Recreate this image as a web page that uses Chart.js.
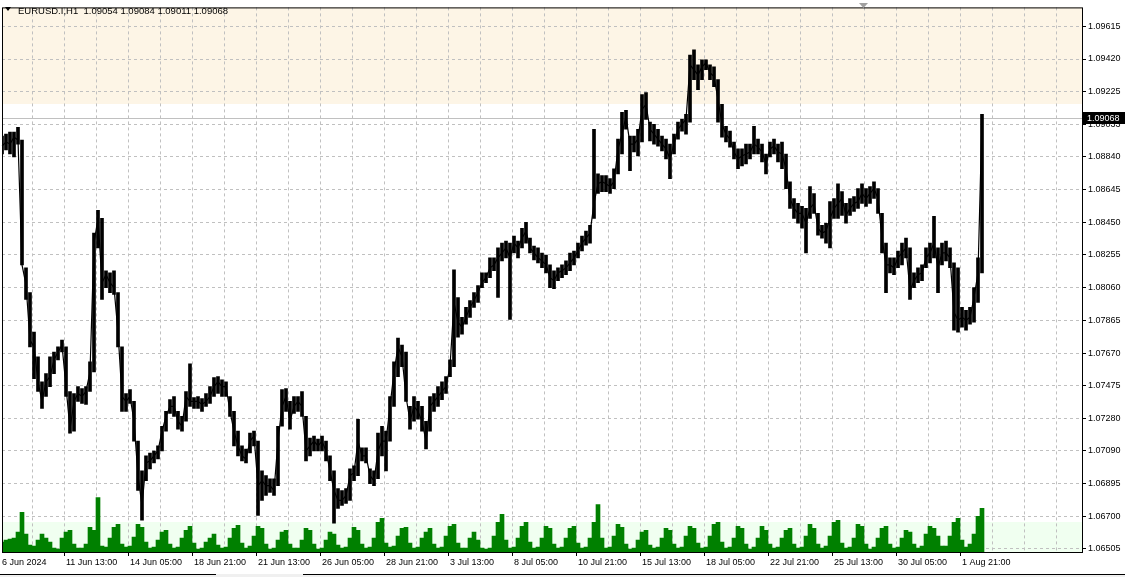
<!DOCTYPE html>
<html><head><meta charset="utf-8">
<script src="https://cdn.jsdelivr.net/npm/chart.js@4.4.1/dist/chart.umd.min.js"></script>
<style>html,body{margin:0;padding:0;background:#fff;overflow:hidden}#wrap{width:1125px;height:577px;position:relative}</style>
</head><body><div id="wrap"><canvas id="c" width="1125" height="577"></canvas></div>
<script>
const symbolTitle = 'EURUSD.I,H1  1.09054 1.09084 1.09011 1.09068';
const lastPrice = 1.09068;
const lastPriceLabel = '1.09068';
const upperZoneFrom = 1.0915;
const volumeBandTop = 3050;

const dateTickLabels = ['6 Jun 2024','11 Jun 13:00','14 Jun 05:00','18 Jun 21:00','21 Jun 13:00','26 Jun 05:00','28 Jun 21:00','3 Jul 13:00','8 Jul 05:00','10 Jul 21:00','15 Jul 13:00','18 Jul 05:00','22 Jul 21:00','25 Jul 13:00','30 Jul 05:00','1 Aug 21:00'];
const yTickLabels = ['1.09615','1.09420','1.09225','1.09033','1.08840','1.08645','1.08450','1.08255','1.08060','1.07865','1.07670','1.07475','1.07280','1.07090','1.06895','1.06700','1.06505'];

// close price, one value per 4 hourly bars
const closePrices = [
1.08902,1.08926,1.08914,1.08955,1.08938,1.08195,1.08078,1.07748,1.07707,1.07500,
1.07383,1.07500,1.07530,1.07630,1.07677,1.07718,1.07471,1.07218,1.07383,1.07430,
1.07412,1.07442,1.07559,1.08325,1.08472,1.08089,1.08137,1.08089,1.08060,1.07795,
1.07412,1.07383,1.07412,1.07265,1.06941,1.06764,1.07017,1.07029,1.07059,1.07088,
1.07206,1.07294,1.07353,1.07353,1.07265,1.07235,1.07412,1.07383,1.07383,1.07383,
1.07365,1.07383,1.07412,1.07471,1.07500,1.07471,1.07471,1.07324,1.07206,1.07118,
1.07059,1.07041,1.07147,1.07177,1.06882,1.06911,1.06882,1.06882,1.06853,1.07147,
1.07353,1.07412,1.07265,1.07353,1.07383,1.07353,1.07088,1.07118,1.07147,1.07118,
1.07147,1.07088,1.06970,1.06853,1.06794,1.06794,1.06823,1.06941,1.06959,1.07147,
1.07059,1.07059,1.06941,1.06911,1.07088,1.07147,1.07147,1.07353,1.07559,1.07707,
1.07648,1.07412,1.07265,1.07353,1.07324,1.07265,1.07147,1.07353,1.07383,1.07412,
1.07442,1.07471,1.07589,1.07972,1.07854,1.07824,1.07883,1.07942,1.07983,1.08031,
1.08089,1.08119,1.08178,1.08195,1.08237,1.08266,1.08296,1.08237,1.08325,1.08296,
1.08354,1.08396,1.08296,1.08266,1.08237,1.08219,1.08195,1.08119,1.08101,1.08148,
1.08160,1.08178,1.08207,1.08237,1.08278,1.08325,1.08354,1.08384,1.08561,1.08678,
1.08690,1.08678,1.08661,1.08690,1.08885,1.08973,1.09079,1.08914,1.08914,1.08943,
1.09120,1.09150,1.09002,1.08973,1.08943,1.08914,1.08885,1.08826,1.08914,1.09002,
1.09032,1.09061,1.09385,1.09356,1.09326,1.09373,1.09397,1.09338,1.09315,1.09179,
1.09032,1.08973,1.08943,1.08867,1.08826,1.08843,1.08855,1.08867,1.08914,1.08896,
1.08867,1.08796,1.08885,1.08902,1.08867,1.08855,1.08767,1.08590,1.08531,1.08502,
1.08502,1.08443,1.08531,1.08561,1.08413,1.08384,1.08396,1.08472,1.08531,1.08561,
1.08590,1.08490,1.08531,1.08561,1.08572,1.08620,1.08590,1.08620,1.08649,1.08590,
1.08354,1.08195,1.08195,1.08178,1.08237,1.08266,1.08296,1.08042,1.08101,1.08137,
1.08148,1.08237,1.08266,1.08325,1.08178,1.08266,1.08266,1.08237,1.07913,1.07866,
1.07883,1.07866,1.07883,1.08001,1.08148,1.09068
];

// highest price in each group of 4 hourly bars
const priceHigh = [
1.08961,1.08973,1.08985,1.08985,1.09014,1.08938,1.08178,1.08030,1.07795,1.07648,
1.07500,1.07548,1.07648,1.07677,1.07707,1.07748,1.07707,1.07442,1.07430,1.07471,
1.07459,1.07471,1.07618,1.08384,1.08519,1.08472,1.08160,1.08148,1.08160,1.08030,
1.07707,1.07430,1.07453,1.07383,1.07147,1.06970,1.07059,1.07076,1.07088,1.07118,
1.07235,1.07324,1.07394,1.07412,1.07324,1.07294,1.07442,1.07606,1.07406,1.07412,
1.07400,1.07430,1.07471,1.07524,1.07530,1.07512,1.07500,1.07412,1.07324,1.07206,
1.07118,1.07100,1.07194,1.07206,1.07147,1.06970,1.06941,1.06923,1.06923,1.07235,
1.07453,1.07459,1.07383,1.07412,1.07412,1.07442,1.07294,1.07165,1.07176,1.07159,
1.07176,1.07147,1.07059,1.06970,1.06864,1.06853,1.06864,1.06982,1.07000,1.07277,
1.07106,1.07106,1.06982,1.06970,1.07194,1.07235,1.07206,1.07412,1.07618,1.07760,
1.07718,1.07677,1.07353,1.07412,1.07383,1.07353,1.07265,1.07412,1.07430,1.07471,
1.07500,1.07530,1.07630,1.08166,1.08001,1.07883,1.07942,1.07983,1.08030,1.08072,
1.08148,1.08148,1.08237,1.08237,1.08296,1.08325,1.08337,1.08325,1.08366,1.08337,
1.08413,1.08449,1.08354,1.08307,1.08296,1.08266,1.08254,1.08195,1.08160,1.08178,
1.08195,1.08219,1.08266,1.08278,1.08325,1.08366,1.08396,1.08431,1.09002,1.08737,
1.08726,1.08726,1.08708,1.08767,1.08943,1.09102,1.09114,1.08961,1.08961,1.09002,
1.09208,1.09220,1.09044,1.09032,1.09002,1.08961,1.08943,1.08914,1.08973,1.09044,
1.09061,1.09091,1.09444,1.09474,1.09385,1.09415,1.09415,1.09385,1.09373,1.09297,
1.09150,1.09020,1.08991,1.08926,1.08885,1.08885,1.08914,1.08914,1.09020,1.08943,
1.08914,1.08855,1.08926,1.08943,1.08914,1.08926,1.08855,1.08690,1.08590,1.08561,
1.08543,1.08531,1.08661,1.08620,1.08502,1.08431,1.08443,1.08572,1.08590,1.08678,
1.08631,1.08561,1.08590,1.08602,1.08649,1.08678,1.08649,1.08661,1.08690,1.08649,
1.08502,1.08325,1.08237,1.08237,1.08278,1.08325,1.08354,1.08296,1.08148,1.08178,
1.08195,1.08296,1.08325,1.08484,1.08296,1.08325,1.08337,1.08296,1.08207,1.08178,
1.07942,1.07925,1.07942,1.08060,1.08237,1.09091
];

// lowest price in each group of 4 hourly bars
const priceLow = [
1.08855,1.08879,1.08855,1.08837,1.08914,1.08195,1.07989,1.07707,1.07518,1.07442,
1.07341,1.07412,1.07471,1.07548,1.07630,1.07677,1.07412,1.07194,1.07206,1.07383,
1.07371,1.07365,1.07442,1.07559,1.08296,1.07989,1.08060,1.08030,1.08019,1.07707,
1.07324,1.07324,1.07371,1.07147,1.06853,1.06676,1.06911,1.06982,1.07017,1.07041,
1.07088,1.07206,1.07312,1.07294,1.07218,1.07206,1.07265,1.07353,1.07341,1.07341,
1.07324,1.07353,1.07371,1.07412,1.07430,1.07412,1.07412,1.07294,1.07118,1.07059,
1.07029,1.07017,1.07076,1.07118,1.06705,1.06794,1.06823,1.06841,1.06823,1.06882,
1.07235,1.07324,1.07218,1.07312,1.07324,1.07294,1.07029,1.07059,1.07088,1.07088,
1.07088,1.07029,1.06911,1.06658,1.06746,1.06764,1.06776,1.06794,1.06911,1.06941,
1.07029,1.07017,1.06894,1.06882,1.06923,1.07059,1.06970,1.07147,1.07353,1.07530,
1.07589,1.07383,1.07218,1.07265,1.07277,1.07206,1.07100,1.07206,1.07324,1.07353,
1.07394,1.07430,1.07530,1.07589,1.07765,1.07783,1.07842,1.07883,1.07942,1.07972,
1.08060,1.08089,1.08119,1.08160,1.08001,1.08219,1.08237,1.07871,1.08266,1.08237,
1.08296,1.08325,1.08266,1.08225,1.08207,1.08178,1.08148,1.08060,1.08054,1.08101,
1.08119,1.08137,1.08160,1.08195,1.08237,1.08278,1.08313,1.08325,1.08472,1.08620,
1.08631,1.08631,1.08620,1.08649,1.08737,1.08855,1.09002,1.08755,1.08867,1.08843,
1.08926,1.09061,1.08932,1.08914,1.08902,1.08873,1.08826,1.08708,1.08855,1.08943,
1.08991,1.08973,1.09044,1.09297,1.09238,1.09297,1.09356,1.09297,1.09256,1.09044,
1.08955,1.08926,1.08896,1.08826,1.08767,1.08784,1.08796,1.08826,1.08855,1.08855,
1.08808,1.08737,1.08837,1.08855,1.08808,1.08767,1.08649,1.08531,1.08472,1.08443,
1.08413,1.08266,1.08472,1.08502,1.08372,1.08354,1.08325,1.08296,1.08472,1.08472,
1.08490,1.08443,1.08490,1.08513,1.08531,1.08561,1.08543,1.08561,1.08590,1.08502,
1.08266,1.08030,1.08148,1.08137,1.08178,1.08195,1.08237,1.07989,1.08060,1.08089,
1.08101,1.08178,1.08207,1.08237,1.08030,1.08195,1.08219,1.08178,1.07807,1.07795,
1.07824,1.07807,1.07842,1.07854,1.07972,1.08148
];

// tick volume, one value per 4 hourly bars
const tickVolumes = [
1000,
1200,1300,1400,2000,4000,1800,
700,600,1200,1800,1400,1000,
400,300,1400,2000,2200,800,
400,400,800,2500,2200,5500,
600,500,1400,2500,2800,800,
500,600,1500,2800,2500,1000,
400,500,1200,2000,2200,800,
400,500,1400,2200,2600,900,
300,400,1000,1400,1800,700,
400,500,1400,2400,2700,900,
400,600,1600,2600,2400,800,
300,400,1200,2000,2200,800,
400,400,1200,2400,2200,800,
300,400,1200,2000,1800,700,
400,500,1400,2500,2200,800,
400,500,1400,3000,3400,900,
500,600,1600,2400,2500,900,
400,500,1400,2000,2400,800,
400,500,1600,2600,2800,900,
400,400,1400,2000,1200,400,
300,400,1600,3000,3800,1200,
400,500,1400,2600,3000,1000,
400,500,1400,2600,2400,800,
400,500,1400,2400,2600,900,
400,500,1400,3000,4800,1400,
400,500,1600,2800,2500,800,
300,400,1200,2000,2200,700,
400,500,1400,2400,2200,800,
400,500,1600,2600,2400,900,
400,500,1600,2800,3000,1000,
400,500,1400,2600,2400,800,
300,500,1400,2600,2200,800,
400,500,1400,2200,2400,800,
400,500,1600,2800,2400,800,
400,600,1600,3000,3200,900,
400,500,1400,2800,2600,800,
300,500,1400,2400,2600,800,
400,500,1400,2200,2000,800,
400,600,1800,2600,2400,1600,
600,600,1600,3000,3400,1200,
500,800,1800,3600,4400
];

const yTickValues = yTickLabels.map(Number);
const totalSlots = 271;
const categories = Array.from({length: totalSlots}, (_, i) => i % 16 === 0 && dateTickLabels[i / 16] ? dateTickLabels[i / 16] : '');
const priceRanges = priceLow.map((lo, i) => [lo, priceHigh[i]]);

const FONT = {family: '"Liberation Sans", Arial, sans-serif', size: 9};

const decor = {
  id: 'decor',
  beforeDraw(chart) {
    const {ctx, chartArea: a, scales} = chart;
    ctx.save();
    const yz = Math.round(scales.y.getPixelForValue(upperZoneFrom));
    ctx.fillStyle = '#fdf5e6';
    ctx.fillRect(a.left, a.top, a.right - a.left, yz - a.top);
    const yb = Math.round(scales.yv.getPixelForValue(volumeBandTop));
    ctx.fillStyle = '#f0fff0';
    ctx.fillRect(a.left, yb, a.right - a.left, a.bottom - yb);
    ctx.restore();
  },
  beforeDatasetsDraw(chart) {
    const {ctx, chartArea: a, scales} = chart;
    const py = Math.round(scales.y.getPixelForValue(lastPrice)) + 0.5;
    ctx.save();
    ctx.strokeStyle = '#c0c0c0';
    ctx.lineWidth = 1;
    ctx.beginPath(); ctx.moveTo(a.left, py); ctx.lineTo(a.right, py); ctx.stroke();
    ctx.restore();
  },
  afterDraw(chart) {
    const {ctx, chartArea: a, scales} = chart;
    ctx.save();
    ctx.strokeStyle = '#000';
    ctx.lineWidth = 1;
    ctx.strokeRect(a.left + 0.5, a.top + 0.5, a.right - a.left, a.bottom - a.top);
    const py = Math.round(scales.y.getPixelForValue(lastPrice));
    ctx.fillStyle = '#000';
    ctx.fillRect(a.right + 1, py - 6, 42, 12);
    ctx.fillStyle = '#fff';
    ctx.font = '9px "Liberation Sans", Arial, sans-serif';
    ctx.textBaseline = 'middle';
    ctx.fillText(lastPriceLabel, a.right + 5, py + 1);
    ctx.fillStyle = '#000';
    ctx.beginPath(); ctx.moveTo(5, 7); ctx.lineTo(11, 7); ctx.lineTo(8, 11); ctx.closePath(); ctx.fill();
    ctx.font = '9.5px "Liberation Sans", Arial, sans-serif';
    ctx.textBaseline = 'alphabetic';
    ctx.fillText(symbolTitle, 18, 14);
    ctx.fillStyle = '#a0a0a0';
    ctx.beginPath(); ctx.moveTo(859, 3); ctx.lineTo(868, 3); ctx.lineTo(863.5, 8); ctx.closePath(); ctx.fill();
    ctx.fillStyle = '#f0f0f0';
    ctx.fillRect(0, 574, 1125, 3);
    ctx.strokeStyle = '#000';
    ctx.beginPath(); ctx.moveTo(0, 574.5); ctx.lineTo(216, 574.5); ctx.moveTo(303, 574.5); ctx.lineTo(1125, 574.5); ctx.stroke();
    ctx.restore();
  }
};

new Chart(document.getElementById('c'), {
  type: 'bar',
  data: {
    labels: categories,
    datasets: [
      {type: 'line', data: closePrices, yAxisID: 'y', borderColor: '#000', borderWidth: 1.2, pointRadius: 0, tension: 0, order: 1},
      {type: 'bar', data: priceRanges, yAxisID: 'y', backgroundColor: '#000', borderWidth: 0, barThickness: 3, order: 1.5},
      {type: 'bar', data: tickVolumes, yAxisID: 'yv', backgroundColor: '#008000', borderWidth: 0, barPercentage: 1, categoryPercentage: 1, order: 2}
    ]
  },
  options: {
    responsive: false, animation: false, devicePixelRatio: 1, events: [],
    layout: {padding: {left: 2, top: 2, right: 0, bottom: 0}},
    plugins: {legend: {display: false}, tooltip: {enabled: false}},
    datasets: {bar: {grouped: false}},
    scales: {
      x: {
        type: 'category', offset: false,
        grid: {
          color: c => (c.index % 8 === 0 ? '#c0c0c0' : 'rgba(0,0,0,0)'),
          tickColor: c => (c.index % 16 === 0 && c.index <= 240 ? '#000' : 'rgba(0,0,0,0)'),
          tickLength: 4, lineWidth: 1
        },
        border: {display: false, dash: [3, 3]},
        ticks: {autoSkip: false, maxRotation: 0, minRotation: 0, align: 'start', padding: 1, color: '#000', font: FONT},
        afterFit(s) { s.height = 25; }
      },
      y: {
        position: 'right', min: 1.06487, max: 1.09727,
        afterBuildTicks(s) { s.ticks = yTickValues.map(v => ({value: v})); },
        ticks: {callback: (v, i) => yTickLabels[i], padding: 2, color: '#000', font: FONT},
        grid: {color: '#c0c0c0', tickColor: '#000', tickLength: 4, lineWidth: 1},
        border: {display: false, dash: [3, 3]},
        afterFit(s) { s.width = 43; }
      },
      yv: {display: false, min: 0, max: 55000, position: 'left'}
    }
  },
  plugins: [decor]
});
</script>
</body></html>
